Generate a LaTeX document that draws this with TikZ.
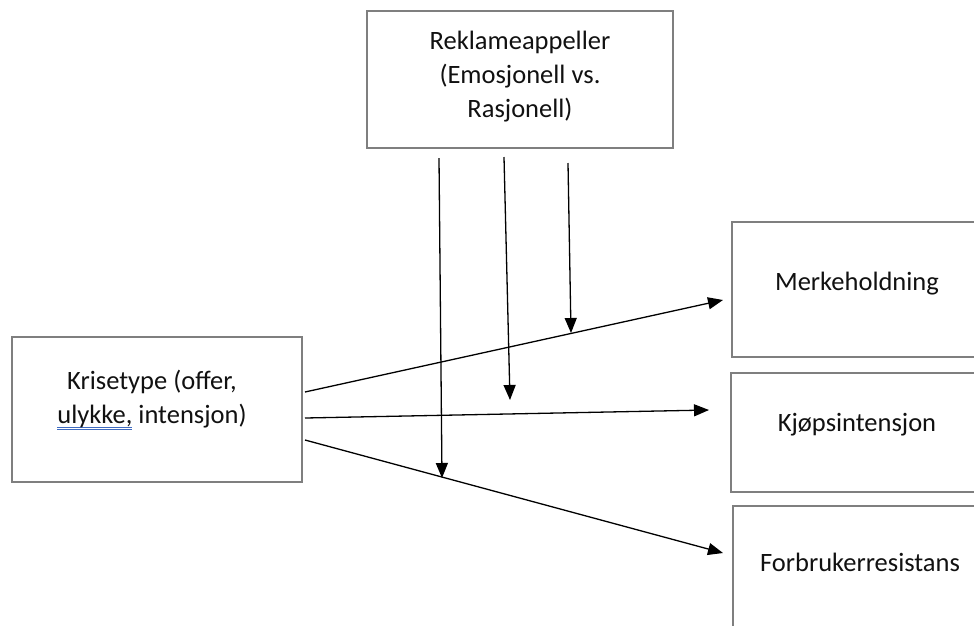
\documentclass[tikz,border=0pt]{standalone}
\usepackage{fontspec}
\setmainfont{Carlito}
\usetikzlibrary{arrows.meta}
\definecolor{boxgray}{HTML}{7F7F7F}
\definecolor{txt}{HTML}{111111}
\definecolor{ulblue}{HTML}{3F6BC0}
\newcommand\spellmark[1]{\leavevmode\setbox0\hbox{#1}\rlap{\color{ulblue}\rule[-4.5pt]{\wd0}{0.9pt}}\rlap{\color{ulblue}\rule[-7pt]{\wd0}{0.9pt}}\box0\relax}
\tikzset{
  box/.style={draw=boxgray, line width=2pt, rectangle, inner sep=0pt, fill=white},
  lbl/.style={text=txt, font=\fontsize{26.5}{34}\selectfont, align=center, inner sep=0pt},
  arr/.style={draw=black, line width=1.3pt, -{Triangle[length=15pt,width=12pt]}}
}
\begin{document}
\begin{tikzpicture}[x=1pt,y=-1pt]
\clip (0,0) rectangle (974,625);
\fill[white] (0,0) rectangle (974,625);
% boxes
\node[box, minimum width=306pt, minimum height=137pt] (top) at (520,79.5) {};
\node[lbl] (toptext) at (520,77) {Reklameappeller\\(Emosjonell vs.\\Rasjonell)};
\node[box, minimum width=290pt, minimum height=145pt] (left) at (157,409.5) {};
\node[lbl] (lefttext) at (152,400) {Krisetype (offer,\\\spellmark{ulykke,} intensjon)};
\node[box, minimum width=250pt, minimum height=135pt] (M) at (857,289.5) {};
\node[lbl] (Mtext) at (857,284) {Merkeholdning};
\node[box, minimum width=252pt, minimum height=119pt] (K) at (857,432.5) {};
\node[lbl] (Ktext) at (857,425) {Kjøpsintensjon};
\node[box, minimum width=254pt, minimum height=140pt] (F) at (860,576) {};
\node[lbl] (Ftext) at (860,562) {Forbrukerresistans};
% connector end points
\coordinate (l1) at (305,392);
\coordinate (l2) at (305,418);
\coordinate (l3) at (305,440);
\coordinate (m1) at (723,300);
\coordinate (k1) at (709,410);
\coordinate (f1) at (723,553);
\coordinate (t1) at (439,158);
\coordinate (t2) at (504,157);
\coordinate (t3) at (568,163);
\coordinate (b1) at (442,478);
\coordinate (b2) at (510,400);
\coordinate (b3) at (571,333);
% connectors
\draw[arr] (l1) -- (m1);
\draw[arr] (l2) -- (k1);
\draw[arr] (l3) -- (f1);
\draw[arr] (t1) -- (b1);
\draw[arr] (t2) -- (b2);
\draw[arr] (t3) -- (b3);
\end{tikzpicture}
\end{document}
